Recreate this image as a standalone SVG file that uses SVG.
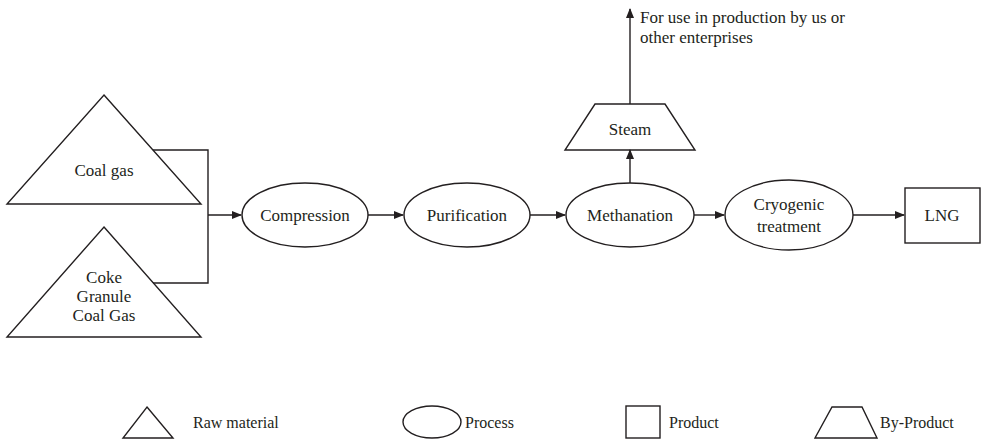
<svg xmlns="http://www.w3.org/2000/svg" width="981" height="442" viewBox="0 0 981 442">
<style>
.s{fill:none;stroke:#231f20;stroke-width:1.4}
.t{font-family:'Liberation Serif','Times New Roman','DejaVu Serif',serif;font-size:17px;fill:#231f20}
.g{font-family:'Liberation Serif','Times New Roman','DejaVu Serif',serif;font-size:16px;fill:#231f20}
.c{text-anchor:middle;dominant-baseline:central}
.l{fill:none;stroke:#231f20;stroke-width:1.4}
</style>
<defs>
<marker id="ah" markerWidth="10" markerHeight="8" refX="9" refY="4" orient="auto" markerUnits="userSpaceOnUse">
<path d="M0,0 L10,4 L0,8 Z" fill="#231f20"/>
</marker>
</defs>
<rect width="981" height="442" fill="#fff"/>
<g id="coal-gas">
<polygon class="s" points="104,95 201,204 7,204"/>
<text class="t c" x="104" y="170">Coal gas</text>
</g>
<g id="coke-granule-coal-gas">
<polygon class="s" points="104,227 201,337 7,337"/>
<text class="t c" x="104" y="277">Coke</text>
<text class="t c" x="104" y="296">Granule</text>
<text class="t c" x="104" y="315">Coal Gas</text>
</g>
<g id="compression">
<ellipse class="s" cx="305" cy="215" rx="63" ry="32"/>
<text class="t c" x="305" y="215">Compression</text>
</g>
<g id="purification">
<ellipse class="s" cx="467" cy="215" rx="63" ry="32"/>
<text class="t c" x="467" y="215">Purification</text>
</g>
<g id="methanation">
<ellipse class="s" cx="630" cy="215" rx="64" ry="32"/>
<text class="t c" x="630" y="215">Methanation</text>
</g>
<g id="cryogenic">
<ellipse class="s" cx="789" cy="215" rx="64" ry="35"/>
<text class="t c" x="789" y="204">Cryogenic</text>
<text class="t c" x="789" y="226">treatment</text>
</g>
<g id="lng">
<rect class="s" x="905" y="188" width="75" height="55"/>
<text class="t c" x="942" y="215">LNG</text>
</g>
<g id="steam">
<polygon class="s" points="595,104 665,104 695,150 565,150"/>
<text class="t c" x="630" y="129">Steam</text>
</g>
<g id="use-note">
<text class="t" x="640" y="23">For use in production by us or</text>
<text class="t" x="640" y="43">other enterprises</text>
</g>
<g id="connectors">
<polyline class="l" points="153,150 208,150 208,283 153,283"/>
<line class="l" x1="208" y1="215" x2="241" y2="215" marker-end="url(#ah)"/>
<line class="l" x1="368" y1="215" x2="403" y2="215" marker-end="url(#ah)"/>
<line class="l" x1="530" y1="215" x2="565" y2="215" marker-end="url(#ah)"/>
<line class="l" x1="694" y1="215" x2="724" y2="215" marker-end="url(#ah)"/>
<line class="l" x1="853" y1="215" x2="904" y2="215" marker-end="url(#ah)"/>
<line class="l" x1="630" y1="183" x2="630" y2="150" marker-end="url(#ah)"/>
<line class="l" x1="630" y1="104" x2="630" y2="9" marker-end="url(#ah)"/>
</g>
<g id="legend">
<polygon class="s" points="147,407 173,438 123,438"/>
<text class="g" x="193" y="428">Raw material</text>
<ellipse class="s" cx="432" cy="422" rx="29" ry="16"/>
<text class="g" x="465" y="428">Process</text>
<rect class="s" x="626" y="406" width="34" height="32"/>
<text class="g" x="669" y="428">Product</text>
<polygon class="s" points="832,407 862,407 877,438 815,438"/>
<text class="g" x="880" y="428">By-Product</text>
</g>
</svg>
